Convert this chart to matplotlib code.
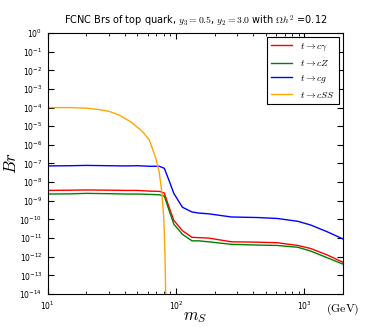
import matplotlib
matplotlib.use('Agg')
import matplotlib.pyplot as plt
from matplotlib.ticker import LogLocator, NullLocator

plt.rcParams['mathtext.fontset'] = 'cm'
plt.rcParams['xtick.direction'] = 'in'
plt.rcParams['ytick.direction'] = 'in'
plt.rcParams['xtick.top'] = True
plt.rcParams['ytick.right'] = True

# scalar mass scan (GeV) and branching ratios
m_s = [10, 15, 20, 30, 40, 50, 62, 74, 81, 88, 96, 112, 133, 150, 179,
       270, 436, 617, 890, 1120, 1500, 2000]
br_cgamma = [3.6e-9, 3.7e-9, 3.8e-9, 3.7e-9, 3.6e-9, 3.6e-9, 3.3e-9, 3.2e-9,
             2.6e-9, 4.7e-10, 8.9e-11, 2.5e-11, 1.1e-11, 1.05e-11, 1.0e-11,
             6.3e-12, 6.0e-12, 5.6e-12, 4.0e-12, 2.75e-12, 1.26e-12, 5.0e-13]
br_cz = [2.3e-9, 2.35e-9, 2.5e-9, 2.4e-9, 2.3e-9, 2.3e-9, 2.2e-9, 2.1e-9,
         1.8e-9, 3.2e-10, 5.6e-11, 1.6e-11, 7.1e-12, 7.1e-12, 6.3e-12,
         4.6e-12, 4.2e-12, 4.0e-12, 3.2e-12, 2.0e-12, 8.9e-13, 4.0e-13]
br_cg = [7.4e-8, 7.6e-8, 7.9e-8, 7.6e-8, 7.4e-8, 7.6e-8, 7.1e-8, 7.1e-8,
         5.5e-8, 1.26e-8, 2.5e-9, 4.5e-10, 2.5e-10, 2.2e-10, 2.0e-10,
         1.35e-10, 1.26e-10, 1.12e-10, 7.9e-11, 5.0e-11, 2.2e-11, 8.9e-12]

m_s_ss = [10, 15, 20, 25, 30, 36, 45, 55, 62, 70, 74, 77, 80, 81, 82, 83, 84]
br_css = [1.0e-4, 1.0e-4, 9.3e-5, 7.9e-5, 6.3e-5, 4.0e-5, 1.6e-5, 5.0e-6,
          1.8e-6, 1.6e-7, 3.2e-8, 4.0e-9, 1.6e-10, 1.8e-11, 1e-12, 1e-14, 1e-16]

fig = plt.figure(figsize=(3.82, 3.27), dpi=100)
ax = fig.add_axes([0.125, 0.101, 0.773, 0.798])

ax.plot(m_s, br_cgamma, color='red', lw=1, label=r'$t\rightarrow c\gamma$')
ax.plot(m_s, br_cz, color='green', lw=1, label=r'$t\rightarrow cZ$')
ax.plot(m_s, br_cg, color='blue', lw=1, label=r'$t\rightarrow cg$')
ax.plot(m_s_ss, br_css, color='orange', lw=1, label=r'$t\rightarrow cSS$')

ax.set_xscale('log')
ax.set_yscale('log')
ax.set_xlim(10, 2000)
ax.set_ylim(1e-14, 1)
ax.yaxis.set_major_locator(LogLocator(base=10, numticks=20))
ax.yaxis.set_minor_locator(NullLocator())
ax.tick_params(labelsize=5.5, length=4, pad=4)
ax.tick_params(which='minor', length=2)

ax.set_title(r'FCNC Brs of top quark, $y_3=0.5$, $y_2=3.0$ with $\Omega h^2$ =0.12',
             fontsize=7)
ax.set_ylabel(r'$Br$', fontsize=12, va='center')
ax.yaxis.set_label_coords(-0.125, 0.5)
ax.set_xlabel(r'$m_S$', fontsize=12, va='center')
ax.xaxis.set_label_coords(0.5, -0.085)
ax.text(1.0, -0.03, r'$\mathrm{(GeV)}$', transform=ax.transAxes,
        fontsize=8.5, ha='center', va='top')

leg = ax.legend(loc='upper right', fontsize=7, fancybox=False,
                framealpha=1, edgecolor='black', handlelength=2.2,
                borderaxespad=0.4)
leg.get_frame().set_linewidth(0.8)

fig.savefig('out.png', dpi=100)
